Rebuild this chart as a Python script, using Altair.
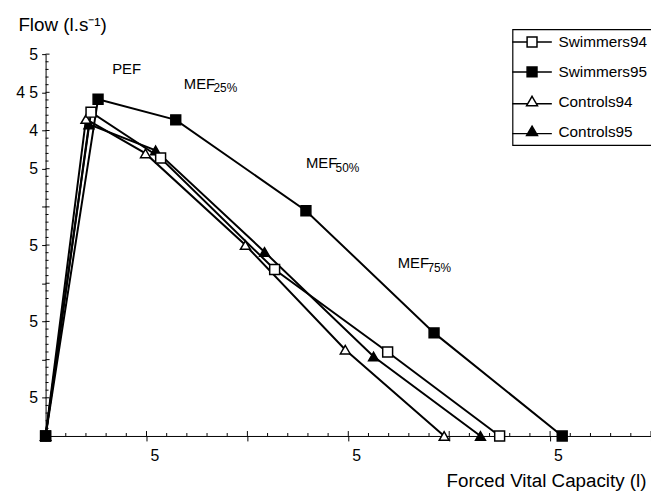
import altair as alt
import pandas as pd

FONT = "Liberation Sans"

# ---- data (FVC in l, flow in l/s) ----
series_names = ["Swimmers94", "Swimmers95", "Controls94", "Controls95"]
fvc_swimmers94 = [0.0, 0.45, 1.14, 2.27, 3.39, 4.50]
flow_swimmers94 = [0.0, 4.24, 3.64, 2.18, 1.10, 0.0]
fvc_swimmers95 = [0.0, 0.52, 1.29, 2.58, 3.85, 5.12]
flow_swimmers95 = [0.0, 4.41, 4.14, 2.95, 1.35, 0.0]
fvc_controls94 = [0.0, 0.40, 0.99, 1.98, 2.97, 3.95]
flow_controls94 = [0.0, 4.15, 3.70, 2.50, 1.13, 0.0]
fvc_controls95 = [0.0, 0.43, 1.09, 2.17, 3.25, 4.31]
flow_controls95 = [0.0, 4.08, 3.74, 2.41, 1.04, 0.0]

# tick values and (as printed) tick labels
x_tick_values = [0, 1, 2, 3, 4, 5, 6]
x_tick_labels = ["", "5", "", "5", "", "5", ""]
y_tick_values = [0, 0.5, 1, 1.5, 2, 2.5, 3, 3.5, 4, 4.5, 5]
y_tick_labels = ["", "5", "", "5", "", "5", "", "5", "4", "4 5", "5"]
x_minor_values = [round(v * 0.2, 1) for v in range(31) if v % 5 != 0]
y_minor_values = [round(v * 0.1, 1) for v in range(51) if v % 5 != 0]

# annotations (anchor in data units)
ann_text = ["PEF", "MEF", "MEF", "MEF"]
ann_sub = ["", "25%", "50%", "75%"]
ann_x = [0.66, 1.37, 2.58, 3.49]
ann_y = [4.74, 4.55, 3.51, 2.20]

# ---- build table (Swimmers95 last so it is drawn on top at the origin) ----
draw_order = ["Controls95", "Controls94", "Swimmers94", "Swimmers95"]
series_data = {
    "Swimmers94": (fvc_swimmers94, flow_swimmers94),
    "Swimmers95": (fvc_swimmers95, flow_swimmers95),
    "Controls94": (fvc_controls94, flow_controls94),
    "Controls95": (fvc_controls95, flow_controls95),
}
rows = []
for name in draw_order:
    xs, ys = series_data[name]
    for i, (xv, yv) in enumerate(zip(xs, ys)):
        rows.append({"series": name, "fvc": xv, "flow": yv, "idx": i})
df = pd.DataFrame(rows)

ann_df = pd.DataFrame({"t": ann_text, "s": ann_sub, "x": ann_x, "y": ann_y})


def label_expr(values, labels):
    expr = "''"
    for v, l in zip(reversed(values), reversed(labels)):
        expr = f"datum.value == {v} ? '{l}' : ({expr})"
    return expr


W, H = 612, 386

xscale = alt.Scale(domain=[0, 6], nice=False, zero=False)
yscale = alt.Scale(domain=[0, 5], nice=False, zero=False)

x_axis = alt.Axis(
    values=x_tick_values, labelExpr=label_expr(x_tick_values, x_tick_labels),
    grid=False, tickSize=5, tickColor="black", domainColor="black",
    labelFontSize=16, labelFont=FONT, labelColor="black", labelOffset=8, labelPadding=7,
    labelAngle=0, labelFlush=False,
    title="Forced Vital Capacity (l)", titleFont=FONT, titleFontSize=19,
    titleFontWeight="normal", titleColor="black", titleAlign="right",
    titleBaseline="alphabetic", titleX=607, titleY=51, titleAngle=0,
)
y_axis = alt.Axis(
    values=y_tick_values, labelExpr=label_expr(y_tick_values, y_tick_labels),
    grid=False, tickSize=4, tickColor="black", domainColor="black",
    labelFontSize=16, labelFont=FONT, labelColor="black", labelPadding=4,
    title="Flow (l.s⁻¹)", titleFont=FONT, titleFontSize=19,
    titleFontWeight="normal", titleColor="black", titleAngle=0,
    titleAlign="left", titleBaseline="alphabetic", titleX=-28, titleY=-24,
)


def X(field):
    return alt.X(field, scale=xscale, axis=x_axis)


def Y(field):
    return alt.Y(field, scale=yscale, axis=y_axis)


base = alt.Chart(df)

lines = base.mark_line(color="black", strokeWidth=2).encode(
    x=X("fvc:Q"),
    y=Y("flow:Q"),
    detail="series:N",
    order="idx:Q",
)

shape_scale = alt.Scale(domain=series_names,
                        range=["square", "square", "triangle-up", "triangle-up"])
fill_scale = alt.Scale(domain=series_names,
                       range=["white", "black", "white", "black"])

points = base.mark_point(filled=True, stroke="black", strokeWidth=1.5,
                         opacity=1, size=100).encode(
    x=X("fvc:Q"),
    y=Y("flow:Q"),
    shape=alt.Shape("series:N", scale=shape_scale, legend=None),
    fill=alt.Fill("series:N", scale=fill_scale, legend=None),
)

# legend-only layer: symbols with a line through them
sq_path = "M-1,-1H1V1H-1Z M-4,0H-1 M1,0H4"
tri_path = "M0,-1.1L1.1,0.8L-1.1,0.8Z M-4,0.4H-0.87 M0.87,0.4H4"
leg = alt.Legend(title=None)
legend_layer = base.mark_point(filled=True, strokeWidth=1.5, opacity=0).encode(
    x=X("fvc:Q"),
    y=Y("flow:Q"),
    shape=alt.Shape("series:N",
                    scale=alt.Scale(domain=series_names,
                                    range=[sq_path, sq_path, tri_path, tri_path]),
                    legend=leg),
    fill=alt.Fill("series:N",
                  scale=alt.Scale(domain=series_names,
                                  range=["white", "black", "white", "black"]),
                  legend=leg),
    stroke=alt.Stroke("series:N",
                      scale=alt.Scale(domain=series_names,
                                      range=["black", "black", "black", "black"]),
                      legend=leg),
)

x_minor = alt.Chart(pd.DataFrame({"v": x_minor_values})).mark_rule(
    color="black", strokeWidth=1).encode(
    x=X("v:Q"), y=alt.value(H), y2=alt.value(H - 3))
y_minor = alt.Chart(pd.DataFrame({"v": y_minor_values})).mark_rule(
    color="black", strokeWidth=1).encode(
    y=Y("v:Q"), x=alt.value(0), x2=alt.value(3))
x_major_in = alt.Chart(pd.DataFrame({"v": x_tick_values[1:]})).mark_rule(
    color="black", strokeWidth=1).encode(
    x=X("v:Q"), y=alt.value(H), y2=alt.value(H - 5))
y_major_in = alt.Chart(pd.DataFrame({"v": y_tick_values[1:]})).mark_rule(
    color="black", strokeWidth=1).encode(
    y=Y("v:Q"), x=alt.value(0), x2=alt.value(4))

ann_main = alt.Chart(ann_df).mark_text(
    align="left", baseline="alphabetic", font=FONT, fontSize=15, color="black"
).encode(x=X("x:Q"), y=Y("y:Q"), text="t:N")
ann_subs = alt.Chart(ann_df).mark_text(
    align="left", baseline="alphabetic", font=FONT, fontSize=12, color="black",
    dx=30, dy=4
).encode(x=X("x:Q"), y=Y("y:Q"), text="s:N")

chart = alt.layer(
    lines, x_minor, y_minor, x_major_in, y_major_in, points, legend_layer,
    ann_main, ann_subs
).resolve_scale(
    shape="independent", fill="independent", stroke="independent"
).properties(
    width=W, height=H,
    autosize=alt.AutoSizeParams(type="none"),
    padding={"left": 38, "top": 44, "right": 0, "bottom": 55},
    background="white",
).configure_view(
    stroke=None
).configure_legend(
    orient="none", legendX=472, legendY=-25,
    strokeColor="black", strokeWidth=1.2, fillColor="white",
    padding=5, symbolOffset=7, labelOffset=19, rowPadding=12.2,
    symbolSize=100, symbolStrokeWidth=1.5,
    symbolOpacity=1, labelFont=FONT, labelFontSize=15.5, labelColor="black",
    labelLimit=200,
)

chart.save("out.html", embed_options={"renderer": "svg", "actions": False})
